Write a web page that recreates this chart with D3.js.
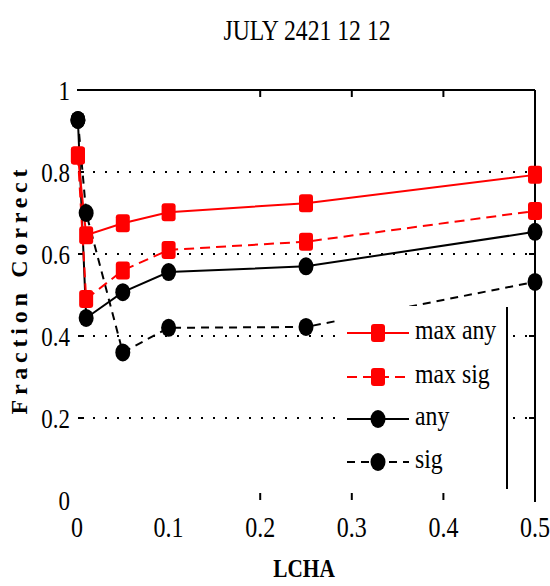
<!DOCTYPE html>
<html><head><meta charset="utf-8">
<script src="https://cdn.jsdelivr.net/npm/d3@7"></script>
<style>body{margin:0;background:#fff}</style></head>
<body><svg id="c" width="550" height="586"></svg>
<script>
// ---- data ----
const xValues = [0.001, 0.01, 0.05, 0.1, 0.25, 0.5];
const maxAny  = [0.84, 0.646, 0.675, 0.702, 0.724, 0.793];
const maxSig  = [0.84, 0.49, 0.56, 0.61, 0.630, 0.705];
const anyVals = [0.927, 0.444, 0.507, 0.556, 0.570, 0.654];
const sigVals = [0.927, 0.70, 0.36, 0.42, 0.422, 0.532];
const seriesNames = ["max any", "max sig", "any", "sig"];
const xTickLabels = ["0", "0.1", "0.2", "0.3", "0.4", "0.5"];
const yTickLabels = ["0", "0.2", "0.4", "0.6", "0.8", "1"];
const titleText = "JULY 2421 12 12";
const xLabel = "LCHA";
const yLabel = "Fraction Correct";

// ---- setup ----
const svg = d3.select("#c");
const x = d3.scaleLinear().domain([0, 0.5]).range([77, 535]);
const y = d3.scaleLinear().domain([0, 1]).range([500, 90]);
const serif = "'Liberation Serif','DejaVu Serif',serif";

function txt(g, s, px, py, size, sx, anchor, weight) {
  return g.append("text")
    .attr("transform", `translate(${px},${py}) scale(${sx},1)`)
    .attr("text-anchor", anchor || "middle")
    .attr("font-family", serif)
    .attr("font-size", size)
    .attr("font-weight", weight || "normal")
    .attr("fill", "#000")
    .text(s);
}

// title
txt(svg, titleText, 307, 40, 30, 0.79, "middle");

// gridlines (dotted)
const yTickVals = yTickLabels.map(Number);
const xTickVals = xTickLabels.map(Number);
svg.append("g").selectAll("line")
  .data(yTickVals.filter(v => v > 0 && v < 1))
  .join("line")
  .attr("x1", x(0) + 4).attr("x2", x(0.5))
  .attr("y1", d => y(d)).attr("y2", d => y(d))
  .attr("stroke", "#000").attr("stroke-width", 2)
  .attr("stroke-dasharray", "2,10");

// y tick marks (left and right)
svg.append("g").selectAll("line")
  .data(yTickVals.filter(v => v > 0 && v < 1))
  .join("line")
  .attr("x1", x(0) + 1).attr("x2", x(0) + 7)
  .attr("y1", d => y(d)).attr("y2", d => y(d))
  .attr("stroke", "#000").attr("stroke-width", 2);
svg.append("g").selectAll("line")
  .data(yTickVals.filter(v => v > 0 && v < 1))
  .join("line")
  .attr("x1", x(0.5) - 6).attr("x2", x(0.5))
  .attr("y1", d => y(d)).attr("y2", d => y(d))
  .attr("stroke", "#000").attr("stroke-width", 2);

// borders: top and right
svg.append("line").attr("x1", x(0)).attr("x2", x(0.5)).attr("y1", y(1)).attr("y2", y(1))
  .attr("stroke", "#000").attr("stroke-width", 2);
svg.append("line").attr("x1", x(0.5)).attr("x2", x(0.5)).attr("y1", y(1)).attr("y2", y(0) + 2)
  .attr("stroke", "#000").attr("stroke-width", 2);

// x ticks (top and bottom) for inner values
const innerX = xTickVals.filter(v => v >= 0.2 && v <= 0.4);
svg.append("g").selectAll("line").data(innerX).join("line")
  .attr("x1", d => x(d)).attr("x2", d => x(d))
  .attr("y1", y(1)).attr("y2", y(1) + 7)
  .attr("stroke", "#000").attr("stroke-width", 2);
svg.append("g").selectAll("line").data(innerX).join("line")
  .attr("x1", d => x(d)).attr("x2", d => x(d))
  .attr("y1", y(0)).attr("y2", y(0) - 7)
  .attr("stroke", "#000").attr("stroke-width", 2);

// tick labels
yTickLabels.forEach((s, i) => txt(svg, s, 70, y(yTickVals[i]) + 10, 28, 0.82, "end"));
xTickLabels.forEach((s, i) => txt(svg, s, x(xTickVals[i]), 537, 30, 0.8, "middle"));

// axis labels
txt(svg, xLabel, 304, 577, 26, 0.82, "middle", "bold");
svg.append("text")
  .attr("transform", "translate(27,292) rotate(-90)")
  .attr("text-anchor", "middle")
  .attr("font-family", serif).attr("font-size", 24).attr("font-weight", "bold")
  .attr("textLength", 245).attr("lengthAdjust", "spacing")
  .text(yLabel);

// series
const series = [
  { name: seriesNames[0], vals: maxAny,  color: "#ff0000", dash: null,   shape: "sq" },
  { name: seriesNames[1], vals: maxSig,  color: "#ff0000", dash: "10,6", shape: "sq" },
  { name: seriesNames[2], vals: anyVals, color: "#000000", dash: null,   shape: "ci" },
  { name: seriesNames[3], vals: sigVals, color: "#000000", dash: "8,6",  shape: "ci" }
];
const line = d3.line().x(d => x(d[0])).y(d => y(d[1]));

function marker(g, shape, color, cx, cy) {
  if (shape === "sq") {
    g.append("rect").attr("x", cx - 7).attr("y", cy - 9).attr("width", 14).attr("height", 18)
      .attr("rx", 3).attr("fill", color);
  } else {
    g.append("ellipse").attr("cx", cx).attr("cy", cy).attr("rx", 7.5).attr("ry", 9).attr("fill", color);
  }
}

const plot = svg.append("g");
series.slice().reverse().forEach(s => {
  const pts = xValues.map((xv, i) => [xv, s.vals[i]]);
  plot.append("path").attr("d", line(pts)).attr("fill", "none")
    .attr("stroke", s.color).attr("stroke-width", 2)
    .attr("stroke-dasharray", s.dash);
});
series.slice().reverse().forEach(s => {
  xValues.forEach((xv, i) => marker(plot, s.shape, s.color, x(xv), y(s.vals[i])));
});

// legend
const lg = svg.append("g");
lg.append("rect").attr("x", 337).attr("y", 306).attr("width", 170).attr("height", 184).attr("fill", "#fff");
lg.append("line").attr("x1", 507).attr("x2", 507).attr("y1", 307).attr("y2", 489)
  .attr("stroke", "#000").attr("stroke-width", 2);
const rowY = [333, 377, 419, 462];
series.forEach((s, i) => {
  lg.append("line").attr("x1", 347).attr("x2", 409).attr("y1", rowY[i]).attr("y2", rowY[i])
    .attr("stroke", s.color).attr("stroke-width", 2).attr("stroke-dasharray", s.dash);
  marker(lg, s.shape, s.color, 378, rowY[i]);
  txt(lg, s.name, 415, rowY[i] + 6, 28, 0.85, "start");
});
</script>
</body></html>
